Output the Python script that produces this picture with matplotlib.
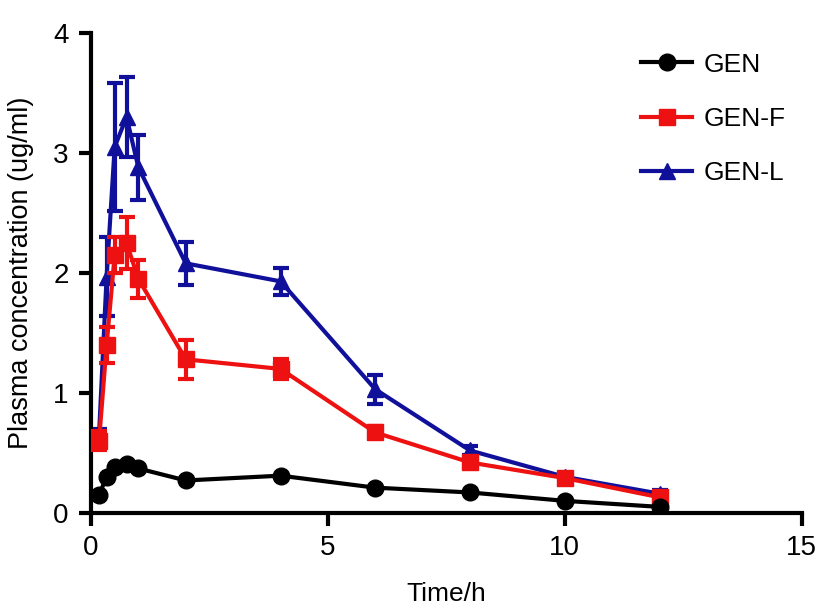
import matplotlib
matplotlib.use("Agg")
from matplotlib import pyplot as plt
from matplotlib.lines import Line2D

# sampling times (h)
times = [0.17, 0.33, 0.5, 0.75, 1, 2, 4, 6, 8, 10, 12]

gen = [0.15, 0.30, 0.38, 0.41, 0.37, 0.27, 0.31, 0.21, 0.17, 0.10, 0.05]

gen_f = [0.60, 1.40, 2.15, 2.25, 1.95, 1.28, 1.20, 0.67, 0.42, 0.29, 0.13]
gen_f_err = [0.08, 0.15, 0.15, 0.22, 0.16, 0.16, 0.08, 0.05, 0.04, 0.03, 0.03]

gen_l = [0.65, 1.97, 3.05, 3.30, 2.88, 2.08, 1.93, 1.03, 0.52, 0.30, 0.16]
gen_l_err = [0.05, 0.33, 0.53, 0.33, 0.27, 0.18, 0.11, 0.12, 0.04, 0.03, 0.03]

plt.rcParams['font.family'] = ['Liberation Sans', 'DejaVu Sans']

fig = plt.figure(figsize=(8.16, 6.12), dpi=100)
ax = fig.add_axes([0.1115, 0.162, 0.871, 0.784])

blue = '#10109a'
red = '#ee1111'

ax.errorbar(times, gen_l, yerr=gen_l_err, color=blue, marker='^', markersize=12,
            linewidth=3, elinewidth=3, capsize=6, capthick=3, zorder=2)
ax.errorbar(times, gen_f, yerr=gen_f_err, color=red, marker='s', markersize=12,
            linewidth=3, elinewidth=3, capsize=6, capthick=3, zorder=3)
ax.plot(times, gen, color='black', marker='o', markersize=12, linewidth=3, zorder=4)

ax.set_xlim(0, 15)
ax.set_ylim(0, 4)
ax.set_xticks([0, 5, 10, 15])
ax.set_yticks([0, 1, 2, 3, 4])
for s in ['top', 'right']:
    ax.spines[s].set_visible(False)
for s in ['left', 'bottom']:
    ax.spines[s].set_linewidth(3)
ax.tick_params(width=3, length=9, labelsize=20, direction='out', pad=7)
ax.set_xlabel('Time/h', fontsize=19, labelpad=15)
ax.set_ylabel('Plasma concentration (ug/ml)', fontsize=19.5, labelpad=14)

handles = [Line2D([], [], color='black', marker='o', markersize=12, linewidth=3),
           Line2D([], [], color=red, marker='s', markersize=12, linewidth=3),
           Line2D([], [], color=blue, marker='^', markersize=12, linewidth=3)]
ax.legend(handles, ['GEN', 'GEN-F', 'GEN-L'], loc='upper left',
          bbox_to_anchor=(0.757, 0.953), bbox_transform=fig.transFigure,
          frameon=False, fontsize=19, handlelength=1.9, handletextpad=0.45,
          labelspacing=1.15)

fig.savefig('out.png', dpi=100)
